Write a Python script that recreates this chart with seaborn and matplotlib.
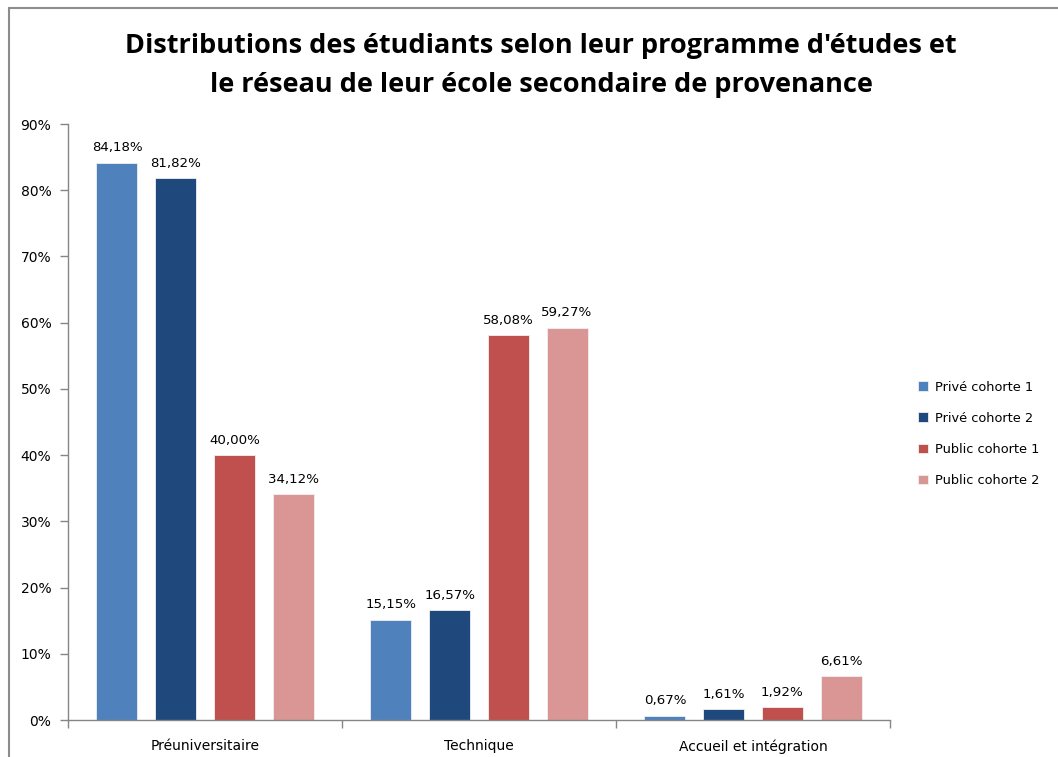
import pandas as pd
import matplotlib.pyplot as plt
import matplotlib.lines as mlines
import seaborn as sns
from matplotlib.ticker import FixedLocator

programmes = ['Préuniversitaire', 'Technique', 'Accueil et intégration']
series = ['Privé cohorte 1', 'Privé cohorte 2', 'Public cohorte 1', 'Public cohorte 2']
prive_c1 = [84.18, 15.15, 0.67]
prive_c2 = [81.82, 16.57, 1.61]
public_c1 = [40.00, 58.08, 1.92]
public_c2 = [34.12, 59.27, 6.61]
couleurs = ['#4F81BD', '#1F497D', '#C0504D', '#D99694']

rows = []
for nom, vals in zip(series, [prive_c1, prive_c2, public_c1, public_c2]):
    for prog, v in zip(programmes, vals):
        rows.append({'programme': prog, 'serie': nom, 'valeur': v})
df = pd.DataFrame(rows)

sns.set_style('white')
plt.rcParams['font.family'] = ['DejaVu Sans']
plt.rcParams['text.color'] = 'black'
plt.rcParams['xtick.color'] = 'black'
plt.rcParams['ytick.color'] = 'black'

fig = plt.figure(figsize=(10.58, 7.57), dpi=100)
ax = fig.add_axes([68 / 1058, 1 - 720 / 757, (890 - 68) / 1058, (720 - 124) / 757])

sns.barplot(data=df, x='programme', y='valeur', hue='serie', order=programmes,
            hue_order=series, palette=couleurs, saturation=1, width=0.857, gap=0.3,
            edgecolor='#f0f0f0', linewidth=0.6, ax=ax)

for cont in ax.containers:
    labels = [('%.2f%%' % b.get_height()).replace('.', ',') for b in cont]
    ax.bar_label(cont, labels=labels, padding=6, fontsize=9.6, color='black')

ax.set_xlim(-0.5, 2.5)
ax.set_ylim(0, 90)
ax.set_yticks(range(0, 91, 10))
ax.set_yticklabels(['%d%%' % t for t in range(0, 91, 10)], fontsize=10)
ax.set_xticks(range(3))
ax.set_xticklabels(programmes, fontsize=10)
ax.xaxis.set_minor_locator(FixedLocator([-0.5, 0.5, 1.5, 2.5]))
ax.tick_params(axis='x', which='major', bottom=True, length=0, pad=14)
ax.tick_params(axis='x', which='minor', bottom=True, length=6, color='#868686', width=1, direction='out')
ax.tick_params(axis='y', left=True, length=6, color='#868686', width=1, direction='out', pad=6)
ax.set_xlabel('')
ax.set_ylabel('')

for side in ['top', 'right']:
    ax.spines[side].set_visible(False)
for side in ['left', 'bottom']:
    ax.spines[side].set_color('#868686')
    ax.spines[side].set_linewidth(1)

ax.legend(title=None, loc='center left', bbox_to_anchor=(1.02, 0.48), frameon=False,
          fontsize=9.3, handlelength=0.8, handleheight=0.8, labelspacing=1.4,
          handletextpad=0.5)

fig.suptitle("Distributions des étudiants selon leur programme d'études et\n"
             "le réseau de leur école secondaire de provenance",
             x=541 / 1058, y=1 - 33 / 757, fontsize=19.5, fontweight='bold',
             family=['Open Sans', 'DejaVu Sans'], color='black',
             linespacing=1.65, va='top')

# cadre du graphique
fig.add_artist(mlines.Line2D([9 / 1058, 9 / 1058], [0, 1 - 8 / 757], color='#8c8c8c', lw=1.5))
fig.add_artist(mlines.Line2D([9 / 1058, 1], [1 - 8 / 757, 1 - 8 / 757], color='#8c8c8c', lw=1.5))

plt.savefig('out.png', dpi=100)
